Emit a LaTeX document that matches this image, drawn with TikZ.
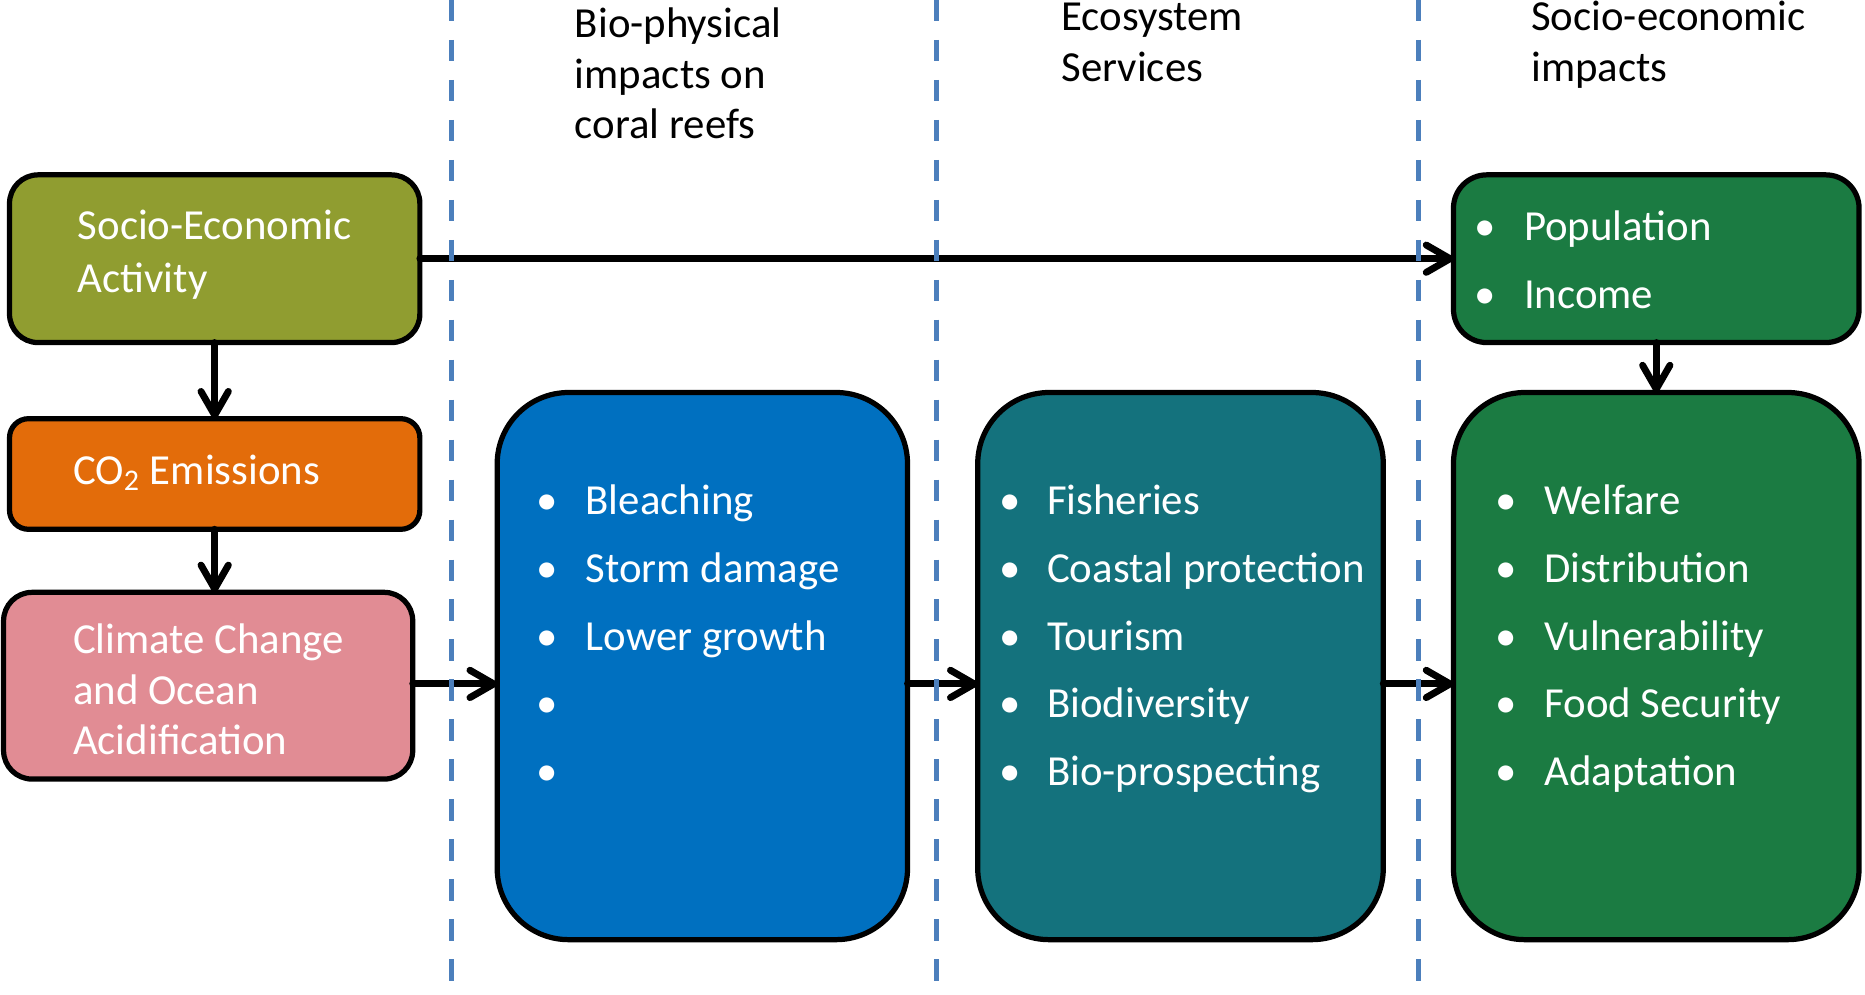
\documentclass[tikz,border=0pt]{standalone}
\usepackage{fontspec}
\setmainfont{Carlito}
\usetikzlibrary{arrows.meta}

\definecolor{seaolive}{RGB}{144,157,48}
\definecolor{cotwo}{RGB}{227,108,10}
\definecolor{climpink}{RGB}{225,140,148}
\definecolor{reefblue}{RGB}{0,112,192}
\definecolor{essteal}{RGB}{20,114,125}
\definecolor{socgreen}{RGB}{27,123,66}
\definecolor{sepblue}{RGB}{76,127,188}

\begin{document}
\begin{tikzpicture}[x=0.5pt,y=-0.5pt,
  box/.style={draw=black, line width=2.2pt, inner sep=0pt, outer sep=0pt, anchor=north west},
  lbl/.style={anchor=base west, inner sep=0pt, text=white, font=\fontsize{18}{21.5}\selectfont},
  hdr/.style={anchor=base west, inner sep=0pt, text=black, font=\fontsize{18}{21.5}\selectfont},
  bul/.style={anchor=base, inner sep=0pt, text=white, font=\fontsize{18}{21.5}\selectfont},
  arr/.style={line width=2.9pt, line cap=round, -{Straight Barb[length=10pt,width=11.5pt,round]}},
  sep/.style={sepblue, line width=2.1pt, dash pattern=on 9pt off 7.8pt}
]
\useasboundingbox[fill=white] (0,0) rectangle (1568,836);

% boxes
\node[box, fill=seaolive, rounded corners=12pt, minimum width=172.5pt, minimum height=70.5pt] (sea) at (8,147) {};
\node[box, fill=cotwo, rounded corners=8pt, minimum width=172.5pt, minimum height=46.5pt] (co2) at (8,352) {};
\node[box, fill=climpink, rounded corners=12pt, minimum width=172pt, minimum height=78.5pt] (clim) at (3,498) {};
\node[box, fill=reefblue, rounded corners=30pt, minimum width=172.5pt, minimum height=230pt] (bio) at (418,330) {};
\node[box, fill=essteal, rounded corners=30pt, minimum width=170.5pt, minimum height=230pt] (ess) at (822,330) {};
\node[box, fill=socgreen, rounded corners=14pt, minimum width=170.5pt, minimum height=70.5pt] (pop) at (1222,147) {};
\node[box, fill=socgreen, rounded corners=30pt, minimum width=170.5pt, minimum height=230pt] (welf) at (1222,330) {};

% box texts
\node[lbl] (sea1) at (65,201.5) {Socio-Economic};
\node[lbl] (sea2) at (65,245.5) {Activity};
\node[lbl] (co2t) at (61,407.5) {CO\textsubscript{2} Emissions};
\node[lbl] (clim1) at (61,549.5) {Climate Change};
\node[lbl] (clim2) at (61,592.5) {and Ocean};
\node[lbl] (clim3) at (61,634.5) {Acidification};

% column headings
\node[hdr] (h11) at (483,31.5) {Bio-physical};
\node[hdr] (h12) at (483,74.5) {impacts on};
\node[hdr] (h13) at (483,116.5) {coral reefs};
\node[hdr] (h21) at (892,25.5) {Ecosystem};
\node[hdr] (h22) at (892,68.5) {Services};
\node[hdr] (h31) at (1287,25.5) {Socio-economic};
\node[hdr] (h32) at (1287,68.5) {impacts};

% bullet lists
\foreach \txt [count=\i] in {Bleaching,Storm damage,Lower growth}{
  \node[bul] (biob\i) at (460,{432.5+57*(\i-1)}) {•};
  \node[lbl] (biot\i) at (492,{432.5+57*(\i-1)}) {\txt};
}
\foreach \i in {4,5}{
  \node[bul] (biob\i) at (460,{432.5+57*(\i-1)}) {•};
}
\foreach \txt [count=\i] in {Fisheries,Coastal protection,Tourism,Biodiversity,Bio-prospecting}{
  \node[bul] (essb\i) at (849,{432.5+57*(\i-1)}) {•};
  \node[lbl] (esst\i) at (880,{432.5+57*(\i-1)}) {\txt};
}
\foreach \txt [count=\i] in {Welfare,Distribution,Vulnerability,Food Security,Adaptation}{
  \node[bul] (welb\i) at (1266,{432.5+57*(\i-1)}) {•};
  \node[lbl] (welt\i) at (1298,{432.5+57*(\i-1)}) {\txt};
}
\foreach \txt [count=\i] in {Population,Income}{
  \node[bul] (popb\i) at (1249,{202.5+57*(\i-1)}) {•};
  \node[lbl] (popt\i) at (1281,{202.5+57*(\i-1)}) {\txt};
}

% connectors
\coordinate (row) at (0,575);
\draw[arr] (sea.east) -- (pop.west);
\draw[arr] (sea.south) -- (co2.north);
\draw[arr] (co2.south) -- (co2.south |- clim.north);
\draw[arr] (clim.east |- row) -- (bio.west |- row);
\draw[arr] (bio.east |- row) -- (ess.west |- row);
\draw[arr] (ess.east |- row) -- (welf.west |- row);
\draw[arr] (pop.south) -- (welf.north);

% column separators
\foreach \x in {380,787,1193}{
  \draw[sep] (\x,0) -- (\x,836);
}
\end{tikzpicture}
\end{document}
